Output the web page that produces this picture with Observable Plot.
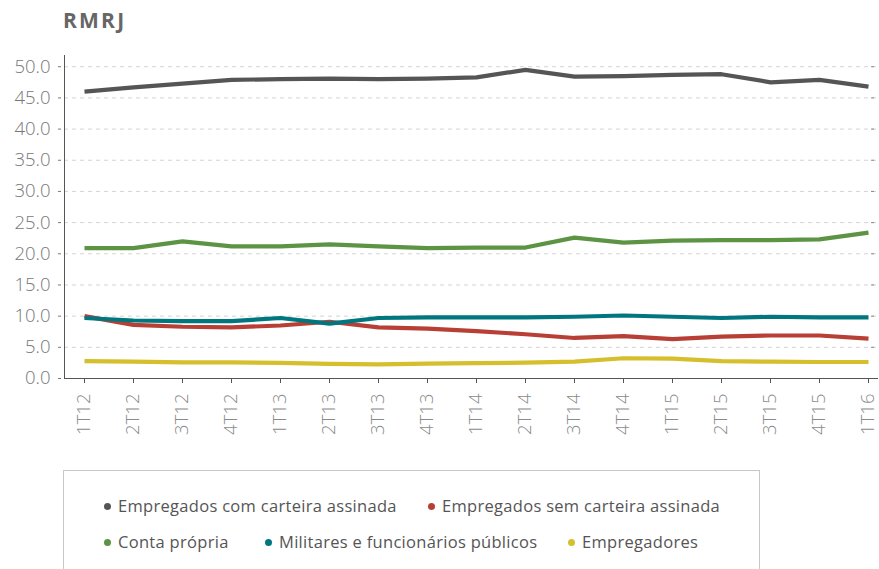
<!DOCTYPE html>
<html>
<head>
<meta charset="utf-8">
<script src="https://cdn.jsdelivr.net/npm/d3@7"></script>
<script src="https://cdn.jsdelivr.net/npm/@observablehq/plot@0.6"></script>
<style>
  html, body { margin: 0; padding: 0; background: #fff; }
  #wrap { position: relative; width: 879px; height: 569px; overflow: hidden; font-family: "Open Sans", Lato, sans-serif; }
  #title { position: absolute; left: 63px; top: 6px; font-size: 21px; font-weight: 700; color: #666; letter-spacing: 2.2px; }
  #chart { position: absolute; left: 0; top: 0; }
  #legend { position: absolute; left: 63px; top: 470px; width: 697px; height: 120px; border: 1px solid #c8c8c8; box-sizing: border-box; }
  .item { position: absolute; font-size: 16.5px; letter-spacing: 0.3px; color: #555; white-space: nowrap; line-height: 18px; }
  .dot { display: inline-block; width: 7px; height: 7px; border-radius: 50%; margin-right: 7px; vertical-align: 2px; }
</style>
</head>
<body>
<div id="wrap">
  <div id="chart"></div>
  <div id="title">RMRJ</div>
  <div id="legend"></div>
</div>
<script>
const quarters = ["1T12","2T12","3T12","4T12","1T13","2T13","3T13","4T13","1T14","2T14","3T14","4T14","1T15","2T15","3T15","4T15","1T16"];
const comCarteira = [46.0,46.7,47.3,47.9,48.0,48.1,48.0,48.1,48.3,49.5,48.4,48.5,48.7,48.8,47.5,47.9,46.8];
const semCarteira = [10.0,8.6,8.3,8.2,8.5,9.1,8.2,8.0,7.6,7.1,6.5,6.8,6.3,6.7,6.9,6.9,6.4];
const contaPropria = [20.9,20.9,22.0,21.2,21.2,21.5,21.2,20.9,21.0,21.0,22.6,21.8,22.1,22.2,22.2,22.3,23.4];
const militares = [9.7,9.3,9.2,9.2,9.7,8.8,9.7,9.8,9.8,9.8,9.9,10.1,9.9,9.7,9.9,9.8,9.8];
const empregadores = [2.8,2.7,2.6,2.6,2.5,2.35,2.25,2.4,2.45,2.55,2.7,3.25,3.2,2.8,2.7,2.65,2.65];
const seriesNames = ["Empregados com carteira assinada","Empregados sem carteira assinada","Conta própria","Militares e funcionários públicos","Empregadores"];
const seriesColors = ["#555555","#b83f35","#5c9444","#00777f","#d5bf2c"];
const yTicks = [0,5,10,15,20,25,30,35,40,45,50];

const seriesValues = [comCarteira, semCarteira, contaPropria, militares, empregadores];
const data = seriesValues.flatMap((vals, i) => vals.map((v, j) => ({serie: seriesNames[i], q: quarters[j], v})));

const W = 879, H = 450, mL = 64, mR = 2, mT = 55, mB = 72;
const chart = Plot.plot({
  width: W, height: H,
  marginLeft: mL, marginRight: mR, marginTop: mT, marginBottom: mB,
  style: {fontFamily: "'Open Sans', Lato, sans-serif", fontSize: "18.5px", color: "#777", background: "transparent"},
  x: {type: "point", domain: quarters, range: [80.3, 871.3], padding: 0, label: null},
  y: {domain: [0, 51.8], label: null},
  color: {domain: seriesNames, range: seriesColors},
  marks: [
    Plot.gridY(yTicks, {stroke: "#d4d4d4", strokeOpacity: 1, strokeDasharray: "4,4"}),
    Plot.axisY(yTicks, {anchor: "right", tickSize: 3, dx: -7, tickFormat: () => "", stroke: "#888", label: null}),
    Plot.axisY(yTicks, {anchor: "left", tickSize: 3, tickPadding: 8, dx: -3, tickFormat: d => d.toFixed(1), stroke: "#777", fill: "#777", fontWeight: 300, label: null}),
    Plot.axisX({tickRotate: -90, tickSize: 5, tickPadding: 10, stroke: "#555", fill: "#8a8a8a", fontWeight: 300, label: null}),
    Plot.frame({anchor: "left", stroke: "#555"}),
    Plot.frame({anchor: "bottom", stroke: "#555"}),
    Plot.line(data, {x: "q", y: "v", z: "serie", stroke: "serie", strokeWidth: 4.2, strokeLinejoin: "round", strokeLinecap: "butt"})
  ]
});
document.getElementById("chart").appendChild(chart);

const legend = document.getElementById("legend");
const pos = [[40, 26],[364, 26],[40, 62],[201, 62],[504, 62]];
seriesNames.forEach((n, i) => {
  const d = document.createElement("div");
  d.className = "item";
  d.style.left = pos[i][0] + "px";
  d.style.top = pos[i][1] + "px";
  const dot = document.createElement("span");
  dot.className = "dot";
  dot.style.background = seriesColors[i];
  d.appendChild(dot);
  d.appendChild(document.createTextNode(n));
  legend.appendChild(d);
});
</script>
</body>
</html>
